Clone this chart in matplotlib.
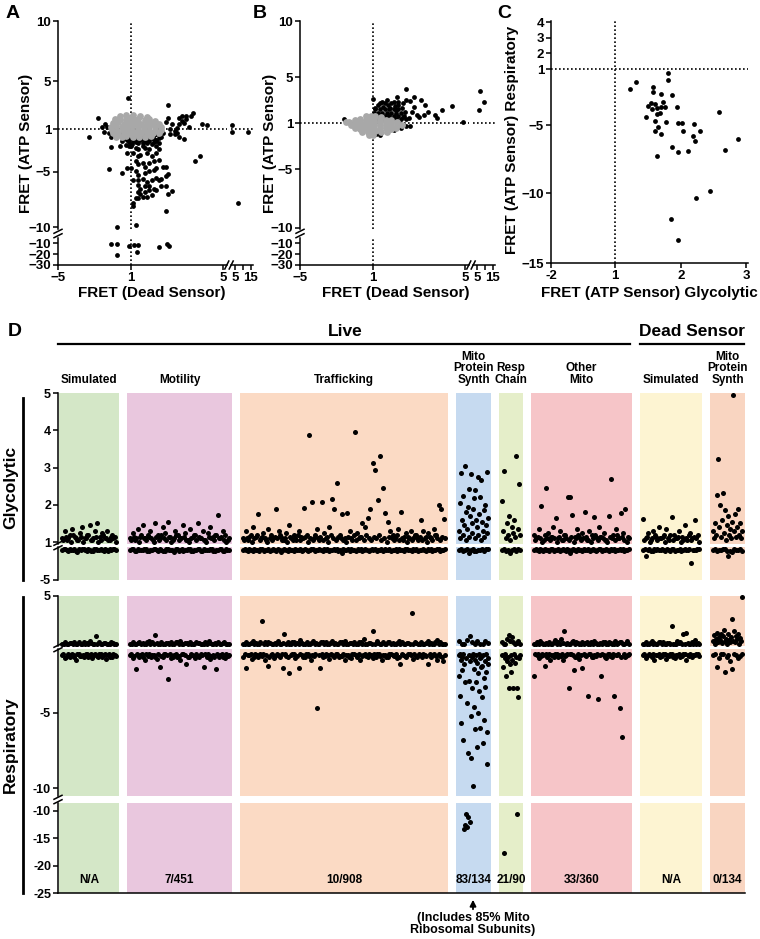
import numpy as np
import matplotlib
matplotlib.use("Agg")
import matplotlib.pyplot as plt
from matplotlib.lines import Line2D
from matplotlib.patches import FancyArrowPatch

plt.rcParams.update({
    "font.family": "Liberation Sans",
    "font.weight": "bold",
    "axes.linewidth": 1.1,
    "xtick.major.width": 1.1, "ytick.major.width": 1.1,
    "xtick.major.size": 3.5, "ytick.major.size": 3.5,
    "xtick.major.pad": 1.5, "ytick.major.pad": 1.5,
})

W, H = 760, 939
GRAY = "#a8a8a8"

# ── Panels A/B: FRET dead sensor (x) vs ATP sensor (y) ──────────────────────
ab_xticks = [-5, 1, 5]
ab_yticks = [10, 5, 1, -5, -10]

a_black_x = [-3.3, -2.8, -2.6, -2.5, -2.4, -2.3, -2.2, -2.1, -2.1, -1.9, -1.8, -1.6, -1.5,
             1.4, 1.7, 2.1, 2.2, 2.3, 2.5, 2.6, 2.6, 2.7, 2.8,
             2.9, 2.9, 3.0, 3.1, 3.1, 3.2, 3.2, 3.3, 3.4, 3.4,
             3.5, 3.6, 3.7, 3.0, 3.1, 3.3, 2.7, 2.4, 2.3, 2.1,
             4.1, 4.3, 3.8, 4.0, -1.15,
             -1.2, -1.04, 1.1, 1.3, 1.4, 1.6, 1.7, 1.8, 2.0, 2.1,
             -1.3, -1.1, 1.0, 1.2, 1.3, 1.5, 1.6, 1.8, 2.1, 2.2,
             -1.2, 1.1, 1.3, 1.4, 1.7, 1.9, 2.1, 2.2, 1.2, 1.3,
             1.5, 1.6, 1.8, 2.0, 2.2, 1.0, 1.2, 1.3, 1.6, 1.8,
             2.0, 2.1, 2.4, 1.1, 1.3, 1.5, 1.7, 1.9, 2.1, 2.3,
             2.5, 1.3, 1.4, 1.6, 1.8, 2.0, 2.2, 1.4, 1.6, 1.7,
             1.9, 2.1, 1.3, 1.2, 1.3, 2.6, 2.5, 2.5, 2.6, 2.8,
             -2.2, -1.5, -1.2, 2.5, 1.1, 1.1, 1.5, 1.8, 2.3, -1.75, 1.2,
             -1.5, -1.3, -1.1, 1.1, 1.3, 1.4, 1.6, 1.7, 1.8, 2.0, 2.1,
             -1.4, -1.2, 1.0, 1.2, 1.35, 1.5, 1.65, 1.9, 2.2,
             -1.1, 1.05, 1.2, 1.5, 1.6, 1.9, 2.0]
a_black_y = [-1.7, 1.9, 1.2, -1.3, 1.4, 1.2, -1.4, -1.7, -2.7, -1.4, -1.2, -2.6, -2.1,
             2.1, 1.9, 1.5, 1.2, -1.2, 1.6, 3.0, 1.9, 1.0, 1.4,
             -1.2, -1.5, 1.1, 1.4, 1.9, 2.1, 1.7, 1.5, 2.1, 1.8,
             1.2, 2.1, 2.3, -1.4, -1.7, -1.9, -1.5, -1.4, -1.7, -2.0,
             1.4, 1.3, -4.0, -3.5, 3.6,
             -2.0, -1.8, -2.1, -2.3, -2.0, -1.8, -2.3, -2.1, -1.9, -2.1,
             -2.5, -2.6, -2.6, -2.8, -2.9, -2.6, -2.8, -2.9, -2.6, -2.3,
             -3.2, -3.2, -3.5, -3.4, -3.2, -3.5, -3.2, -2.9, -4.0, -4.3,
             -4.2, -4.5, -4.2, -4.0, -3.9, -4.6, -4.9, -5.3, -5.1, -4.9,
             -4.8, -4.6, -4.5, -5.7, -5.7, -5.6, -5.9, -5.7, -5.5, -5.6,
             -5.4, -6.2, -6.5, -6.3, -6.3, -6.5, -5.7, -7.0, -6.8, -7.3,
             -7.1, -6.6, -6.8, -7.4, -7.4, -5.2, -4.5, -6.3, -7.0, -6.7,
             -4.7, -5.1, -4.6, -8.5, -7.8, -8.1, -7.3, -6.6, -6.3, -10.0, -9.8,
             -1.5, -1.6, -1.5, -1.6, -1.5, -1.6, -1.5, -1.6, -1.5, -1.6, -1.5,
             -1.8, -1.9, -1.8, -1.9, -1.8, -1.9, -1.8, -1.8, -1.8,
             -2.2, -2.4, -2.2, -2.3, -2.1, -2.4, -2.2]
a_gray_x = [-1.6, -1.3, 1.1, 1.4, 1.7,
            -1.9, -1.6, -1.3, -1.1, 1.1, 1.3, 1.6, 1.8, 2.05,
            -2.0, -1.7, -1.4, -1.15, 1.0, 1.2, 1.45, 1.7, 1.95, 2.2,
            -2.1, -1.8, -1.5, -1.2, 1.05, 1.3, 1.55, 1.8, 2.05, 2.3,
            -2.05, -1.75, -1.45, -1.2, 1.05, 1.3, 1.55, 1.8, 2.05, 2.3,
            -2.0, -1.7, -1.4, -1.15, 1.0, 1.2, 1.45, 1.7, 1.95, 2.2,
            -1.8, -1.5, -1.25, 1.1, 1.35, 1.6, 1.85]
a_gray_y = [2.1, 2.15, 2.2, 2.1, 2.0,
            1.8, 1.85, 1.75, 1.9, 1.85, 1.8, 1.75, 1.85, 1.7,
            1.5, 1.55, 1.45, 1.5, 1.55, 1.5, 1.45, 1.55, 1.5, 1.45,
            1.2, 1.25, 1.15, 1.2, 1.25, 1.15, 1.2, 1.25, 1.15, 1.2,
            -1.1, -1.15, -1.05, -1.1, -1.15, -1.05, -1.1, -1.15, -1.05, -1.1,
            -1.4, -1.45, -1.35, -1.4, -1.45, -1.35, -1.4, -1.45, -1.35, -1.4,
            -1.7, -1.75, -1.65, -1.7, -1.75, -1.7, -1.65]
a_side_x = [3.1, 3.1, 13.2, 6.9]          # dead sensor 5..15 segment
a_side_y = [1.3, -1.3, -1.3, -7.8]
a_low_x = [-2.1, -1.75, -1.75, -1.1, 1.15, 1.3, 1.25, 2.2, 2.55, 2.65]   # ATP < -10
a_low_y = [-11, -11, -20.8, -12.8, -11.6, -11.6, -17.9, -13.5, -11, -12.8]

b_black_x = [-2.6, 1.0, 1.1, 1.2, 1.3, 1.4, 1.45, 1.5, 1.6, 1.65,
             1.75, 1.8, 1.9, 1.95, 2.0, 2.1, 2.1, 2.25, 2.3, 2.4,
             2.45, 2.05, 2.45, 2.8, 2.6, 2.8, 3.1, 3.25, 3.2, 2.9,
             3.0, 2.7, 2.55, 2.3, 3.4, 3.7, 3.8, 4.0, 4.45, 4.9,
             1.1, 1.3, 1.5, 1.7, 1.9, 2.1,
             1.05, 1.2, 1.4, 1.6, 1.8, 2.0, 2.2,
             1.1, 1.3, 1.5, 1.7, 1.9, 2.1, 2.35,
             1.0, 1.2, 1.4, 1.6, 1.8, 2.0, 2.2, 2.45,
             1.0, 1.3, 1.6, 1.9, 2.2, 2.45, 1.15, 2.6]
b_black_y = [1.35, 3.05, 2.3, 2.6, 2.7, 2.85, 2.4, 2.7, 3.0, 2.55,
             2.3, 2.7, 2.85, 2.5, 2.1, 2.85, 2.6, 2.3, 2.7, 2.0,
             3.0, 3.3, 3.95, 3.3, 2.9, 2.4, 3.0, 2.55, 1.7, 1.7,
             1.55, 2.0, 1.4, 1.55, 2.0, 1.7, 1.4, 2.1, 2.5, 1.1,
             2.2, 2.2, 2.2, 2.2, 2.2, 2.2,
             1.9, 1.9, 1.9, 1.9, 1.9, 1.9, 1.9,
             1.6, 1.6, 1.6, 1.6, 1.6, 1.6, 1.6,
             1.35, 1.35, 1.35, 1.35, 1.35, 1.35, 1.35, 1.35,
             -2.0, -2.0, -1.8, -1.6, -1.45, -1.25, -1.95, -1.3]
b_gray_x = [-1.4, -1.1, 1.1, 1.35,
            -2.0, -1.7, -1.4, -1.15, 1.05, 1.3, 1.55, 1.8,
            -2.5, -2.3, -2.0, -1.7, -1.4, -1.15, 1.05, 1.3, 1.55, 1.8, 2.05,
            -2.2, -1.9, -1.6, -1.35, -1.1, 1.05, 1.3, 1.55, 1.8, 2.05, 2.25,
            -2.0, -1.7, -1.4, -1.15, 1.05, 1.3, 1.55, 1.8, 2.0,
            -1.6, -1.3, -1.05, 1.1, 1.35, 1.6,
            -1.2, 1.0]
b_gray_y = [1.6, 1.65, 1.6, 1.55,
            1.3, 1.35, 1.25, 1.3, 1.35, 1.3, 1.25, 1.3,
            1.1, 1.05, 1.1, 1.05, 1.1, 1.05, 1.1, 1.05, 1.1, 1.05, 1.1,
            -1.15, -1.2, -1.15, -1.1, -1.2, -1.15, -1.2, -1.15, -1.1, -1.2, -1.15,
            -1.45, -1.5, -1.45, -1.4, -1.5, -1.45, -1.4, -1.5, -1.45,
            -1.75, -1.8, -1.75, -1.7, -1.8, -1.75,
            -2.0, -2.0]
b_side_x = [7.2, 9.8, 6.2]
b_side_y = [3.8, 2.8, 2.1]

# ── Panel C: glycolytic vs respiratory (ATP sensor) ──────────────────────────
c_x = [1.23, 1.32, 1.81, 1.81, 1.58, 1.58, 1.69, 1.86, 1.50, 1.54,
       1.60, 1.64, 1.56, 1.72, 1.70, 1.76, 1.68, 1.63, 1.47, 1.94,
       1.60, 1.78, 1.96, 2.02, 1.65, 1.61, 1.69, 2.03, 2.20, 2.18,
       2.21, 2.30, 1.87, 1.96, 2.11, 1.63, 2.58, 2.67, 2.87, 2.44,
       2.23, 1.85, 1.95]
c_y = [-2.45, -1.93, -1.26, -1.79, -2.26, -2.62, -2.79, -2.86, -3.64, -3.45,
       -3.52, -3.76, -3.88, -3.33, -3.74, -3.74, -4.12, -4.21, -4.40, -3.74,
       -4.71, -4.79, -4.83, -4.88, -5.12, -5.43, -5.64, -5.45, -4.93, -5.83,
       -6.14, -5.43, -6.64, -6.95, -6.88, -7.29, -4.05, -6.84, -6.0, -9.88,
       -10.36, -11.86, -13.38]

# ── Panel D: one list per group and band (>= 1 above the break, <= -1 below) ─
groups = ["Simulated", "Motility", "Trafficking", "Mito\nProtein\nSynth", "Resp\nChain",
          "Other\nMito", "Simulated", "Mito\nProtein\nSynth"]
hits = ["N/A", "7/451", "10/908", "83/134", "21/90", "33/360", "N/A", "0/134"]

sim_gly_hi = [1.1, 1.05, 1.3, 1.15, 1.05, 1.1, 1.2, 1.0, 1.35, 1.2, 1.15, 1.1,
              1.05, 1.05, 1.25, 1.15, 1.4, 1.0, 1.1, 1.1, 1.2, 1.2, 1.45, 1.05,
              1.05, 1.1, 1.3, 1.15, 1.5, 1.0, 1.15, 1.05, 1.25, 1.2, 1.1, 1.1,
              1.3, 1.05, 1.05, 1.15, 1.2, 1.1, 1.15, 1.0]
sim_gly_lo = [-1.2, -1.1, -1.1, -1.2, -1.3, -1.05, -1.15, -1.15, -1.1, -1.25, -1.4, -1.1,
              -1.2, -1.05, -1.1, -1.2, -1.25, -1.1, -1.15, -1.3, -1.3, -1.05, -1.1, -1.15,
              -1.2, -1.1, -1.15, -1.25, -1.1, -1.2, -1.3, -1.05, -1.2, -1.1, -1.1, -1.15]
sim_res_hi = [1.1, 1.05, 1.2, 1.1, 1.05, 1.15, 1.15, 1.05, 1.25, 1.1, 1.1, 1.2,
              1.05, 1.1, 1.2, 1.05, 1.15, 1.1, 1.3, 1.15, 1.1, 1.05, 1.7, 1.1,
              1.2, 1.05, 1.05, 1.15, 1.15, 1.1, 1.1, 1.05, 1.2, 1.15, 1.1, 1.1]
sim_res_lo = [-1.2, -1.1, -1.4, -1.3, -1.1, -1.2, -1.3, -1.15, -1.2, -1.35,
              -1.5, -1.1, -1.1, -1.25, -1.25, -1.2, -1.35, -1.15, -1.1, -1.3,
              -1.2, -1.1, -1.4, -1.2, -1.15, -1.25, -1.3, -1.1, -1.1, -1.3,
              -1.2, -1.15, -1.45, -1.2, -1.1, -1.35, -1.3, -1.1, -1.2, -1.25]

mot_gly_hi = [1.1, 1.05, 1.25, 1.15, 1.05, 1.1, 1.35, 1.0, 1.15, 1.2,
              1.45, 1.1, 1.1, 1.05, 1.2, 1.15, 1.3, 1.1, 1.05, 1.0,
              1.5, 1.15, 1.2, 1.05, 1.1, 1.2, 1.4, 1.1, 1.25, 1.05,
              1.55, 1.15, 1.15, 1.0, 1.05, 1.1, 1.3, 1.2, 1.2, 1.05,
              1.1, 1.1, 1.45, 1.15, 1.25, 1.05, 1.05, 1.0, 1.35, 1.1,
              1.15, 1.2, 1.2, 1.05, 1.5, 1.15, 1.1, 1.1, 1.3, 1.05,
              1.05, 1.0, 1.25, 1.15, 1.4, 1.1, 1.15, 1.05, 1.2, 1.2,
              1.72, 1.1, 1.1, 1.15, 1.3, 1.05, 1.2, 1.0, 1.05, 1.1]
mot_gly_lo = [-1.2, -1.1, -1.1, -1.25, -1.3, -1.05, -1.15, -1.2, -1.2, -1.1,
              -1.1, -1.3, -1.35, -1.15, -1.2, -1.05, -1.1, -1.2, -1.25, -1.1,
              -1.15, -1.25, -1.3, -1.05, -1.1, -1.2, -1.2, -1.15, -1.4, -1.1,
              -1.1, -1.25, -1.2, -1.05, -1.3, -1.2, -1.15, -1.1, -1.1, -1.3,
              -1.25, -1.15, -1.2, -1.05, -1.1, -1.25, -1.3, -1.1, -1.15, -1.2,
              -1.2, -1.05, -1.1, -1.3, -1.35, -1.15, -1.2, -1.1, -1.1, -1.25,
              -1.25, -1.05, -1.15, -1.2]
mot_res_hi = [1.1, 1.05, 1.2, 1.1, 1.05, 1.15, 1.25, 1.05, 1.15, 1.1,
              1.1, 1.2, 1.3, 1.05, 1.2, 1.1, 1.8, 1.15, 1.1, 1.05,
              1.2, 1.1, 1.05, 1.15, 1.15, 1.05, 1.25, 1.1, 1.1, 1.2,
              1.2, 1.05, 1.3, 1.1, 1.05, 1.15, 1.15, 1.05, 1.2, 1.1,
              1.1, 1.05, 1.25, 1.15, 1.15, 1.1, 1.05, 1.05, 1.2, 1.1,
              1.3, 1.15, 1.1, 1.05, 1.15, 1.1, 1.2, 1.05, 1.05, 1.15,
              1.25, 1.1, 1.1, 1.05]
mot_res_lo = [-1.2, -1.1, -1.4, -1.25, -2.1, -1.15, -1.3, -1.2, -1.1, -1.35,
              -1.5, -1.15, -1.25, -1.1, -1.35, -1.2, -1.2, -1.3, -1.45, -1.1,
              -2.0, -1.25, -1.3, -1.15, -1.15, -1.2, -2.8, -1.1, -1.4, -1.3,
              -1.2, -1.15, -1.3, -1.25, -1.5, -1.1, -1.1, -1.2, -1.8, -1.35,
              -1.35, -1.15, -1.2, -1.25, -1.4, -1.1, -1.25, -1.3, -1.15, -1.2,
              -2.0, -1.15, -1.3, -1.1, -1.45, -1.25, -1.2, -1.35, -2.1, -1.1,
              -1.35, -1.2, -1.1, -1.3, -1.4, -1.15, -1.25, -1.2]

traf_gly_hi = [1.1, 1.05, 1.3, 1.1, 1.05, 1.15, 1.2, 1.0, 1.4, 1.1,
               1.15, 1.2, 1.75, 1.05, 1.1, 1.15, 1.25, 1.1, 1.05, 1.0,
               1.35, 1.1, 1.2, 1.05, 1.1, 1.15, 1.88, 1.1, 1.3, 1.2,
               1.15, 1.05, 1.05, 1.1, 1.25, 1.0, 1.45, 1.15, 1.1, 1.05,
               1.2, 1.1, 1.05, 1.2, 1.3, 1.05, 1.15, 1.1, 1.91, 1.15,
               1.2, 1.0, 3.87, 1.1, 2.07, 1.05, 1.1, 1.2, 1.35, 1.1,
               1.05, 1.15, 2.07, 1.05, 1.25, 1.1, 1.15, 1.0, 1.4, 1.2,
               2.15, 1.1, 1.88, 1.05, 2.58, 1.15, 1.2, 1.1, 1.75, 1.05,
               1.1, 1.0, 1.78, 1.15, 1.3, 1.1, 1.05, 1.2, 3.95, 1.05,
               1.25, 1.1, 1.15, 1.15, 1.5, 1.05, 1.4, 1.2, 1.65, 1.1,
               1.9, 1.05, 3.12, 1.15, 2.93, 1.1, 2.13, 1.2, 3.3, 1.05,
               2.45, 1.1, 1.78, 1.0, 1.55, 1.15, 1.3, 1.1, 1.2, 1.05,
               1.1, 1.2, 1.35, 1.05, 1.8, 1.1, 1.05, 1.15, 1.25, 1.0,
               1.15, 1.1, 1.3, 1.05, 1.1, 1.2, 1.2, 1.1, 1.05, 1.15,
               1.6, 1.05, 1.3, 1.1, 1.15, 1.0, 1.25, 1.15, 1.1, 1.05,
               1.35, 1.2, 1.2, 1.1, 2.0, 1.05, 1.88, 1.15, 1.62, 1.1]
traf_gly_lo = [-1.2, -1.1, -1.15, -1.3, -1.05, -1.2, -1.25, -1.1, -1.15, -1.2, -1.35, -1.1, -1.05, -1.25, -1.2, -1.15,
               -1.1, -1.3, -1.2, -1.05, -1.15, -1.25, -1.1, -1.2, -1.4, -1.15, -1.1, -1.2, -1.3, -1.05, -1.15, -1.2,
               -1.25, -1.1, -1.2, -1.15, -1.05, -1.3, -1.2, -1.1, -1.15, -1.25, -1.2, -1.05, -1.1, -1.35, -1.2, -1.15,
               -1.1, -1.2, -1.25, -1.05, -1.15, -1.1, -1.3, -1.2, -1.15, -1.05, -1.2, -1.1, -1.25, -1.15, -1.5, -1.1,
               -1.2, -1.15, -1.05, -1.3, -1.1, -1.2, -1.15, -1.25, -1.1, -1.2, -1.05, -1.35, -1.15, -1.1, -1.2, -1.25,
               -1.15, -1.1, -1.2, -1.05, -1.3, -1.15, -1.2, -1.1, -1.25, -1.05, -1.15, -1.2, -1.1, -1.3, -1.2, -1.15,
               -1.05, -1.25, -1.1, -1.2, -1.15, -1.35, -1.1, -1.05, -1.2, -1.15, -1.25, -1.1, -1.2, -1.05, -1.3, -1.15,
               -1.2, -1.1, -1.15, -1.25, -1.05, -1.2, -1.1, -1.3, -1.15, -1.2, -1.05, -1.1, -1.25, -1.15, -1.2, -1.1]
traf_res_hi = [1.1, 1.05, 1.2, 1.1, 1.05, 1.15, 1.3, 1.05, 1.15, 1.1, 1.1, 1.2, 2.96, 1.05, 1.25, 1.1,
               1.2, 1.15, 1.05, 1.1, 1.15, 1.05, 1.3, 1.1, 1.1, 1.15, 1.9, 1.05, 1.2, 1.1, 1.05, 1.2,
               1.25, 1.1, 1.15, 1.05, 1.4, 1.15, 1.1, 1.05, 1.2, 1.1, 1.05, 1.15, 1.3, 1.05, 1.15, 1.1,
               1.1, 1.2, 1.25, 1.05, 1.2, 1.1, 1.05, 1.15, 1.35, 1.1, 1.15, 1.05, 1.1, 1.2, 1.2, 1.1,
               1.3, 1.05, 1.05, 1.15, 1.15, 1.1, 1.25, 1.05, 1.1, 1.2, 1.2, 1.1, 1.45, 1.05, 1.05, 1.15,
               1.15, 1.1, 2.1, 1.05, 1.3, 1.15, 1.1, 1.05, 1.2, 1.1, 1.05, 1.2, 1.25, 1.1, 1.15, 1.05,
               1.1, 1.15, 1.3, 1.05, 1.2, 1.1, 1.05, 1.15, 1.15, 1.1, 3.6, 1.05, 1.25, 1.15, 1.1, 1.05,
               1.2, 1.1, 1.05, 1.15, 1.3, 1.05, 1.15, 1.1, 1.1, 1.2, 1.4, 1.05, 1.2, 1.1, 1.1, 1.05]
traf_res_lo = [-1.3, -1.15, -2.04, -1.2, -1.2, -1.1, -1.45, -1.3, -1.1, -1.2, -1.35, -1.15,
               -1.25, -1.1, -1.5, -1.2, -1.9, -1.3, -1.2, -1.15, -1.4, -1.25, -1.1, -1.2,
               -1.3, -1.15, -2.04, -1.1, -1.25, -1.3, -2.4, -1.2, -1.15, -1.1, -1.4, -1.25,
               -2.04, -1.15, -1.2, -1.3, -1.35, -1.1, -1.1, -1.25, -1.5, -1.2, -1.25, -1.15,
               -4.7, -1.2, -2.04, -1.1, -1.3, -1.25, -1.15, -1.2, -1.45, -1.1, -1.2, -1.3,
               -1.1, -1.15, -1.35, -1.25, -1.25, -1.1, -1.5, -1.2, -1.2, -1.3, -1.4, -1.15,
               -1.1, -1.2, -1.3, -1.1, -1.55, -1.25, -1.2, -1.15, -1.25, -1.3, -1.1, -1.2,
               -1.4, -1.15, -1.3, -1.1, -1.15, -1.25, -1.5, -1.2, -1.2, -1.3, -1.35, -1.1,
               -1.1, -1.2, -1.25, -1.15, -1.4, -1.3, -1.8, -1.1, -1.2, -1.25, -1.3, -1.15,
               -1.1, -1.2, -1.45, -1.1, -1.25, -1.3, -1.15, -1.2, -1.35, -1.1, -1.2, -1.25,
               -1.8, -1.15, -1.3, -1.2, -1.1, -1.25, -1.5, -1.1, -1.25, -1.3, -1.58, -1.2]

mps_gly_hi = [1.3, 2.05, 1.1, 2.85, 1.6, 1.2, 2.23, 1.45, 3.04, 1.05,
              1.8, 1.35, 1.95, 2.42, 1.15, 1.7, 2.82, 1.25, 1.5, 1.9,
              2.18, 1.1, 2.39, 1.6, 1.4, 2.74, 1.2, 1.75, 2.2, 1.05,
              2.66, 1.55, 1.3, 1.85, 1.15, 2.0, 1.45, 2.88, 1.25, 1.65]
mps_gly_lo = [-1.2, -1.1, -1.3, -1.15, -1.05, -1.6, -1.2, -1.1,
              -1.25, -1.35, -1.15, -1.2, -1.1, -1.3, -1.05, -1.1]
mps_res_hi = [1.3, 1.1, 1.05, 1.4, 1.7, 1.2, 1.1, 1.35, 1.05, 1.1, 1.3, 1.15]
mps_res_lo = [-1.2, -2.6, -1.1, -3.9, -1.5, -5.7, -1.3, -2.2, -6.8, -1.1,
              -13.3, -1.8, -12.6, -3.0, -10.6, -1.4, -12.9, -4.4, -11.1, -7.7,
              -1.2, -2.9, -12.0, -1.6, -5.2, -8.0, -1.3, -3.4, -1.1, -9.9,
              -2.1, -4.6, -1.5, -6.1, -1.2, -3.0, -7.3, -1.7, -2.4, -5.0,
              -1.1, -3.6, -1.4, -6.0, -2.0, -1.3, -4.0, -1.9, -7.0, -1.2,
              -2.7, -5.5, -1.6, -3.3, -1.1, -2.3, -8.4, -6.3, -1.4, -1.8]

rc_gly_hi = [2.1, 1.3, 2.9, 1.1, 1.5, 1.2, 1.7, 1.05, 1.4, 1.25,
             1.6, 1.15, 3.3, 1.35, 2.55, 1.2]
rc_gly_lo = [-1.2, -1.1, -1.3, -1.15, -1.6, -1.2, -1.1, -1.25, -1.1, -1.15]
rc_res_hi = [1.2, 1.1, 1.05, 1.5, 1.8, 1.3, 1.6, 1.2, 1.1, 1.15, 1.3, 1.1]
rc_res_lo = [-1.2, -2.0, -17.7, -1.4, -1.1, -2.6, -1.6, -1.3, -3.4, -1.8,
             -1.2, -2.3, -1.5, -3.4, -1.1, -1.7, -1.3, -10.6, -3.4, -4.0,
             -1.4, -1.2]

oth_gly_hi = [1.2, 1.05, 1.1, 1.15, 1.35, 1.1, 1.97, 1.0, 1.05, 1.2,
              2.45, 1.1, 1.25, 1.05, 1.15, 1.15, 1.4, 1.1, 1.64, 1.0,
              1.1, 1.15, 1.3, 1.05, 1.05, 1.2, 1.2, 1.1, 2.2, 1.05,
              2.2, 1.15, 1.72, 1.0, 1.15, 1.1, 1.35, 1.2, 1.1, 1.05,
              1.25, 1.1, 1.8, 1.15, 1.05, 1.05, 1.3, 1.0, 1.2, 1.1,
              1.67, 1.2, 1.1, 1.05, 1.4, 1.15, 1.15, 1.1, 1.25, 1.05,
              1.05, 1.0, 1.7, 1.15, 2.69, 1.1, 1.2, 1.05, 1.35, 1.2,
              1.1, 1.1, 1.78, 1.15, 1.25, 1.05, 1.88, 1.0, 1.15, 1.1]
oth_gly_lo = [-1.2, -1.1, -1.15, -1.3, -1.05, -1.2, -1.25, -1.1, -1.15, -1.2, -1.35, -1.1, -1.05, -1.25, -1.2, -1.15,
              -1.1, -1.3, -1.2, -1.05, -1.15, -1.25, -1.1, -1.2, -1.6, -1.15, -1.1, -1.2, -1.3, -1.05, -1.15, -1.2,
              -1.25, -1.1, -1.2, -1.15, -1.05, -1.3, -1.2, -1.1, -1.15, -1.25, -1.2, -1.05, -1.1, -1.35, -1.2, -1.15,
              -1.1, -1.2, -1.25, -1.05, -1.15, -1.1, -1.3, -1.2, -1.15, -1.05, -1.2, -1.1, -1.25, -1.15, -1.2, -1.1]
oth_res_hi = [1.1, 1.05, 1.2, 1.1, 1.3, 1.15, 1.05, 1.1, 1.15, 1.05, 1.25, 1.1, 1.1, 1.2, 1.4, 1.05,
              1.2, 1.1, 1.5, 1.15, 2.1, 1.05, 1.15, 1.1, 1.05, 1.2, 1.3, 1.05, 1.2, 1.15, 1.1, 1.05,
              1.25, 1.1, 1.15, 1.2, 1.05, 1.1, 1.2, 1.05, 1.3, 1.15, 1.1, 1.05, 1.15, 1.1, 1.25, 1.2,
              1.05, 1.1, 1.2, 1.15, 1.1, 1.05, 1.35, 1.1, 1.15, 1.2, 1.2, 1.05, 1.1, 1.15, 1.3, 1.1]
oth_res_lo = [-2.6, -1.15, -1.2, -1.1, -1.4, -1.25, -1.1, -1.2, -1.9, -1.15, -1.3, -1.1,
              -1.5, -1.2, -1.2, -1.3, -1.1, -1.15, -1.35, -1.2, -1.25, -1.1, -1.5, -1.25,
              -1.2, -1.15, -3.4, -1.1, -1.1, -1.2, -2.2, -1.3, -1.3, -1.15, -1.45, -1.2,
              -2.04, -1.1, -1.2, -1.25, -3.9, -1.15, -1.1, -1.3, -1.35, -1.2, -1.25, -1.1,
              -4.1, -1.2, -2.6, -1.15, -1.2, -1.3, -1.4, -1.1, -1.1, -1.25, -1.3, -1.15,
              -3.9, -1.2, -1.2, -1.1, -4.7, -1.3, -6.6, -1.15, -1.35, -1.25, -1.2, -1.1]

dsim_gly_hi = [1.62, 1.05, 1.1, 1.15, 1.25, 1.0, 1.05, 1.1, 1.3, 1.2, 1.15,
               1.05, 1.4, 1.1, 1.1, 1.15, 1.2, 1.0, 1.35, 1.1, 1.05, 1.2,
               1.67, 1.05, 1.2, 1.1, 1.1, 1.15, 1.3, 1.0, 1.15, 1.05, 1.45,
               1.1, 1.05, 1.2, 1.25, 1.05, 1.1, 1.15, 1.6, 1.1, 1.2, 1.0]
dsim_gly_lo = [-1.2, -1.1, -1.9, -1.15, -1.1, -1.25, -1.3, -1.1, -1.2, -1.05, -1.15, -1.2,
               -1.1, -1.15, -1.35, -1.1, -1.2, -1.25, -1.1, -1.05, -1.25, -1.2, -1.15, -1.1,
               -1.3, -1.15, -1.1, -1.2, -1.2, -1.05, -2.8, -1.15, -1.15, -1.2, -1.1, -1.1]
dsim_res_hi = [1.1, 1.05, 1.2, 1.1, 1.05, 1.15, 1.3, 1.05, 1.15, 1.1,
               1.1, 1.2, 1.25, 1.05, 1.2, 1.1, 1.05, 1.15, 1.15, 1.05,
               2.55, 1.1, 1.1, 1.05, 1.3, 1.15, 1.2, 1.1, 1.9, 1.05,
               2.0, 1.15, 1.1, 1.05, 1.25, 1.1, 1.4, 1.05, 1.15, 1.1]
dsim_res_lo = [-1.2, -1.1, -1.4, -1.25, -1.1, -1.2, -1.3, -1.15, -1.5, -1.2,
               -1.2, -1.1, -1.35, -1.25, -1.1, -1.15, -1.45, -1.2, -1.25, -1.1,
               -1.15, -1.3, -1.4, -1.2, -1.2, -1.1, -1.3, -1.25, -1.1, -1.15,
               -1.5, -1.2, -1.25, -1.1, -1.35, -1.2, -1.2, -1.15, -1.1, -1.25]

dmps_gly_hi = [1.3, 1.1, 1.5, 1.2, 2.26, 3.22, 1.4, 1.99, 1.15, 1.6,
               2.31, 1.25, 1.85, 1.05, 1.45, 1.7, 1.2, 1.35, 1.1, 1.55,
               4.94, 1.3, 1.75, 1.15, 1.4, 1.9, 1.2, 1.5, 1.1, 1.3]
dmps_gly_lo = [-1.2, -1.1, -1.3, -1.15, -1.2, -1.1, -1.05, -1.25,
               -1.9, -1.25, -1.4, -1.1, -1.15, -1.2, -1.1, -1.3]
dmps_res_hi = [1.3, 1.8, 1.1, 1.5, 2.0, 1.2, 1.6, 1.4, 1.9, 1.15,
               1.7, 2.2, 1.3, 1.5, 1.1, 1.85, 1.4, 1.25, 1.6, 3.1,
               1.35, 2.1, 1.2, 1.75, 1.45, 1.9, 1.1, 1.55, 1.3, 4.95]
dmps_res_lo = [-1.2, -1.1, -2.0, -1.4, -1.15, -1.1, -2.3, -1.3,
               -1.2, -1.6, -2.1, -1.1, -1.2, -1.4, -1.25, -1.1]

gly_hi = [sim_gly_hi, mot_gly_hi, traf_gly_hi, mps_gly_hi, rc_gly_hi, oth_gly_hi, dsim_gly_hi, dmps_gly_hi]
gly_lo = [sim_gly_lo, mot_gly_lo, traf_gly_lo, mps_gly_lo, rc_gly_lo, oth_gly_lo, dsim_gly_lo, dmps_gly_lo]
res_hi = [sim_res_hi, mot_res_hi, traf_res_hi, mps_res_hi, rc_res_hi, oth_res_hi, dsim_res_hi, dmps_res_hi]
res_lo = [sim_res_lo, mot_res_lo, traf_res_lo, mps_res_lo, rc_res_lo, oth_res_lo, dsim_res_lo, dmps_res_lo]

# layout / style for D
spans = [(59, 119), (127, 232), (240, 448), (456, 491), (499, 523), (531, 632), (640, 702), (710, 745)]
bg = ["#d4e7c7", "#e9c7de", "#fbdac4", "#c6daf0", "#e5eec9", "#f6c5c8", "#fdf4d2", "#f9d5c1"]


# ── helpers ──────────────────────────────────────────────────────────────────
fig = plt.figure(figsize=(W / 100, H / 100), dpi=100)


def box(l, t, r, b):
    return fig.add_axes([l / W, 1 - b / H, (r - l) / W, (b - t) / H])


def txt(x, y, s, **kw):
    kw.setdefault("ha", "center")
    kw.setdefault("va", "center")
    fig.text(x / W, 1 - y / H, s, **kw)


def line(xs, ys, **kw):
    kw.setdefault("color", "black")
    fig.add_artist(Line2D(np.array(xs) / W, 1 - np.array(ys) / H, **kw))


def brk_v(x, y):   # break marks on a vertical axis
    for d in (-2.2, 2.2):
        line([x - 4, x + 4], [y + d + 2, y + d - 2], lw=1.1)


def brk_h(x, y):   # break marks on a horizontal axis
    for d in (-2.2, 2.2):
        line([x + d - 2, x + d + 2], [y + 4, y - 4], lw=1.1)


def fold(v):
    # FRET ratios: values below 1 are shown as -1/ratio, so -1 and 1 coincide
    v = np.asarray(v, dtype=float)
    return np.where(v >= 1, v - 1, np.where(v <= -1, v + 1, 0.0))


def unfold(t):
    t = np.asarray(t, dtype=float)
    return np.where(t >= 0, t + 1, t - 1)


def fold_scale(vals, px, flip=False):
    t = fold(vals)
    p = np.asarray(px, dtype=float) * (-1 if flip else 1)
    o = np.argsort(t)
    t, p = t[o], p[o]
    s0 = (p[1] - p[0]) / (t[1] - t[0])
    s1 = (p[-1] - p[-2]) / (t[-1] - t[-2])
    te = np.r_[t[0] - 100, t, t[-1] + 100]
    pe = np.r_[p[0] - 100 * s0, p, p[-1] + 100 * s1]
    return (lambda v: np.interp(fold(v), te, pe),
            lambda q: unfold(np.interp(q, pe, te)))


def clean(ax, keep=()):
    ax.patch.set_visible(False)
    for k, s in ax.spines.items():
        s.set_visible(k in keep)
    ax.set_xticks([])
    ax.set_yticks([])


def minus(v):
    return str(v).replace("-", "\u2212")


DOT = dict(s=12, c="black", lw=0, zorder=3, clip_on=False)
DOTTED = dict(color="black", lw=1.2, ls=(0, (1, 1.4)), zorder=1)


def fret_panel(dx, y_px, bx, by, gx, gy, sx, sy, lx=None, ly=None):
    fx, ix = fold_scale(ab_xticks, [58 + dx, 131 + dx, 223 + dx])
    fy, iy = fold_scale(ab_yticks, y_px, flip=True)
    main = box(58 + dx, 21, 227 + dx, 229)
    low = box(58 + dx, 238, 227 + dx, 265)
    side = box(231 + dx, 21, 253 + dx, 229)
    corner = box(231 + dx, 238, 253 + dx, 265)
    for ax in (main, low):
        ax.set_xscale("function", functions=(fx, ix))
        ax.set_xlim(float(ix(58 + dx)), float(ix(227 + dx)))
    for ax in (main, side):
        ax.set_yscale("function", functions=(fy, iy))
        ax.set_ylim(float(iy(-229)), float(iy(-21)))
    for ax in (low, corner):
        ax.set_ylim(-30, -5)
    for ax in (side, corner):
        ax.set_xlim(2.5, 16.5)
    clean(main, ("left",))
    clean(low, ("left", "bottom"))
    clean(side)
    clean(corner, ("bottom",))
    main.set_yticks(ab_yticks, [minus(v) for v in ab_yticks])
    low.set_yticks([-10, -20, -30], ["\u221210", "\u221220", "\u221230"])
    low.set_xticks(ab_xticks, [minus(v) for v in ab_xticks])
    corner.set_xticks([5, 10, 15], ["5", "", "15"])
    for ax in (main, low, corner):
        ax.tick_params(labelsize=9.5)
    for ax in (main, low):
        ax.axvline(1, **DOTTED)
    for ax in (main, side):
        ax.axhline(1, **DOTTED)
    main.scatter(bx, by, **DOT)
    main.scatter(gx, gy, s=24, c=GRAY, lw=0, zorder=4, clip_on=False)
    side.scatter(sx, sy, **DOT)
    if lx is not None:
        low.scatter(lx, ly, **DOT)
    brk_v(58 + dx, 233.5)
    brk_h(229 + dx, 265)


# ── A & B ────────────────────────────────────────────────────────────────────
fret_panel(0, [21, 81, 129, 172, 227], a_black_x, a_black_y, a_gray_x, a_gray_y,
           a_side_x, a_side_y, a_low_x, a_low_y)
fret_panel(242, [21, 77, 123, 169, 228], b_black_x, b_black_y, b_gray_x, b_gray_y,
           b_side_x, b_side_y)

for x0 in (26, 270):
    txt(x0, 143, "FRET (ATP Sensor)", rotation=90, fontsize=11)
txt(152, 293, "FRET (Dead Sensor)", fontsize=11)
txt(396, 293, "FRET (Dead Sensor)", fontsize=11)

# ── C ────────────────────────────────────────────────────────────────────────
c_xticks = [-2, 1, 2, 3]
c_yticks = [4, 3, 2, 1, -5, -10, -15]
fx, ix = fold_scale(c_xticks, [551, 615, 681, 746])
fy, iy = fold_scale([-15, -10, -5, 1, 4], [263, 193, 125, 69, 22], flip=True)
axc = box(551, 21, 748, 263)
axc.set_xscale("function", functions=(fx, ix))
axc.set_yscale("function", functions=(fy, iy))
axc.set_xlim(float(ix(551)), float(ix(748)))
axc.set_ylim(float(iy(-263)), float(iy(-21)))
clean(axc, ("left", "bottom"))
axc.set_xticks(c_xticks, [str(v) for v in c_xticks])
axc.set_yticks(c_yticks, [minus(v) for v in c_yticks])
axc.tick_params(labelsize=9.5)
axc.axvline(1, **DOTTED)
axc.axhline(1, **DOTTED)
axc.scatter(c_x, c_y, **DOT)
txt(512, 140, "FRET (ATP Sensor) Respiratory", rotation=90, fontsize=11)
txt(649, 293, "FRET (ATP Sensor) Glycolytic", fontsize=11)

for s, x0 in (("A", 13), ("B", 260), ("C", 504)):
    txt(x0, 14, s, fontsize=14)

# ── D ────────────────────────────────────────────────────────────────────────
g_hi = box(58, 393, 745, 544)
g_lo = box(58, 547, 745, 580)
r_hi = box(58, 596, 745, 646)
r_mid = box(58, 649, 745, 796)
r_low = box(58, 803, 745, 893)
d_axes = [g_hi, g_lo, r_hi, r_mid, r_low]
limits = [(0.95, 5), (-5, -0.8), (0.9, 5), (-10.53, -0.79), (-25, -8.54)]
ticks = [[5, 4, 3, 2, 1], [-5], [5], [-5, -10], [-10, -15, -20, -25]]
for ax, lim, tk in zip(d_axes, limits, ticks):
    clean(ax, ("left", "bottom") if ax is r_low else ("left",))
    ax.set_xlim(58, 745)
    ax.set_ylim(*lim)
    ax.set_yticks(tk, [str(v) for v in tk])
    ax.tick_params(labelsize=9)
    for (a, b), c in zip(spans, bg):
        ax.axvspan(a, b, color=c, lw=0, zorder=0)

DDOT = dict(s=13, c="black", lw=0, zorder=3, clip_on=False)
for k, (a, b) in enumerate(spans):
    for ax, vals in ((g_hi, gly_hi[k]), (g_lo, gly_lo[k]), (r_hi, res_hi[k])):
        vals = np.asarray(vals)
        ax.scatter(np.linspace(a + 3, b - 3, len(vals)), vals, **DDOT)
    vals = np.asarray(res_lo[k])
    xs = np.linspace(a + 3, b - 3, len(vals))
    deep = vals < -10.53
    r_mid.scatter(xs[~deep], vals[~deep], **DDOT)
    r_low.scatter(xs[deep], vals[deep], **DDOT)
    cx = (a + b) / 2
    txt(cx, 386, groups[k], va="bottom", fontsize=8.5, linespacing=0.95)
    txt(cx, 880, hits[k], fontsize=8.5)

for y0 in (545.5, 647.5, 799.5):
    brk_v(58, y0)

txt(15, 332, "D", fontsize=14)
txt(345, 332, "Live", fontsize=12.5)
txt(692, 332, "Dead Sensor", fontsize=12.5)
line([58, 630], [344, 344], lw=1.6)
line([640, 744], [344, 344], lw=1.6)
line([23, 23], [398, 580], lw=2)
line([23, 23], [597, 893], lw=2)
txt(11, 487, "Glycolytic", rotation=90, fontsize=12.5)
txt(10, 745, "Respiratory", rotation=90, fontsize=12.5)

fig.add_artist(FancyArrowPatch((473 / W, 1 - 912 / H), (473 / W, 1 - 897 / H),
                               transform=fig.transFigure, arrowstyle="-|>",
                               mutation_scale=9, lw=1.3, color="black"))
txt(473, 924, "(Includes 85% Mito\nRibosomal Subunits)", fontsize=9, linespacing=0.9)

fig.savefig("out.png", dpi=100)
